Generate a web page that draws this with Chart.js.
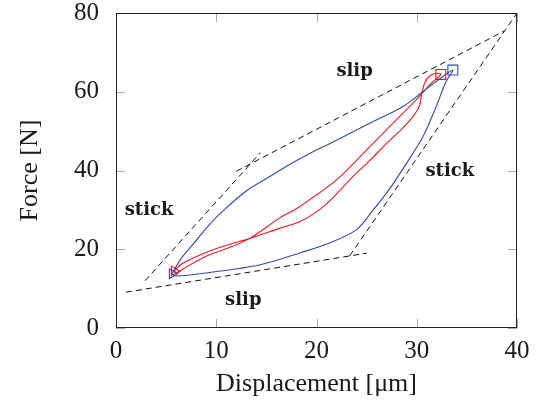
<!DOCTYPE html>
<html><head><meta charset="utf-8">
<script src="https://cdn.jsdelivr.net/npm/chart.js@4/dist/chart.umd.min.js"></script>
<style>html,body{margin:0;padding:0;background:#fff}</style>
</head><body>
<canvas id="c" width="537" height="400" style="width:537px;height:400px;display:block"></canvas>
<script>
// ---- data ----
const xTicks = [0, 10, 20, 30, 40];
const yTicks = [0, 20, 40, 60, 80];

const blueUpX = [5.6, 5.9, 6.6, 7.7, 9.3, 11.0, 13.0, 15.3, 17.0, 19.0, 22.0, 25.3, 28.6, 30.6, 32.3, 33.6];
const blueUpY = [13.8, 15.2, 18.0, 21.3, 26.2, 30.5, 34.8, 38.4, 41.1, 43.9, 47.7, 52.0, 56.2, 60.0, 63.3, 65.5];
const blueDownX = [33.6, 32.9, 31.9, 30.6, 28.9, 27.2, 25.6, 24.0, 21.5, 18.5, 14.3, 9.3, 6.0, 5.6];
const blueDownY = [65.5, 62.5, 56.0, 48.5, 41.5, 35.0, 29.8, 25.0, 21.8, 19.2, 16.0, 14.1, 13.2, 13.8];

const redUpX = [5.8, 6.5, 7.7, 9.3, 11.0, 13.3, 16.3, 18.3, 20.0, 21.6, 23.6, 25.3, 27.0, 28.5, 29.6, 30.3, 30.5, 30.8, 31.3, 31.9, 32.4];
const redUpY = [14.5, 16.2, 17.8, 19.5, 21.0, 22.7, 25.3, 27.0, 29.5, 33.0, 38.4, 42.5, 46.9, 50.5, 53.6, 56.6, 59.5, 62.3, 64.0, 64.7, 64.4];
const redDownX = [32.4, 31.5, 30.5, 29.7, 28.6, 25.3, 22.0, 18.3, 16.3, 13.3, 11.0, 9.3, 6.8, 6.1, 5.8];
const redDownY = [64.4, 62.3, 59.5, 57.3, 54.5, 46.0, 37.6, 30.8, 27.9, 22.7, 20.1, 18.6, 15.2, 14.0, 14.5];

const stickLeftX = [2.9, 14.4],  stickLeftY = [12.0, 44.5];
const slipUpperX = [12.0, 38.7], slipUpperY = [39.8, 75.4];
const stickRightX = [23.3, 40.0], stickRightY = [18.3, 80.0];
const slipLowerX = [1.0, 25.0],  slipLowerY = [9.1, 19.0];

const noteText = ['slip', 'stick', 'stick', 'slip'];
const noteX = [23.8, 3.3, 33.3, 12.7];
const noteY = [65.2, 29.8, 39.7, 7.0];

// ---- helpers ----
const pts = (xs, ys) => xs.map((v, i) => ({x: v, y: ys[i]}));
const loop = (ux, uy, dx, dy) => pts(ux, uy).concat(pts(dx, dy).slice(1));
const BLUE = 'rgb(45,75,175)';
const RED = 'rgb(238,25,35)';
const INK = '#1a1a1a';
const SERIF = '"Liberation Serif", "Times New Roman", serif';

function dashed(xs, ys) {
  return {data: pts(xs, ys), showLine: true, borderColor: '#111', borderWidth: 1,
    borderDash: [6, 4], pointRadius: 0, tension: 0, fill: false};
}
function curve(data, color) {
  return {data, showLine: true, borderColor: color, borderWidth: 1.1, pointRadius: 0,
    tension: 0.3, fill: false};
}
function marker(x, y, color, style, r, rot) {
  return {data: [{x, y}], showLine: false, pointStyle: style, pointRadius: r,
    pointRotation: rot, borderColor: color, pointBorderColor: color, pointBackgroundColor: 'rgba(0,0,0,0)',
    pointBorderWidth: 1.1, backgroundColor: 'rgba(0,0,0,0)'};
}

const frame = {
  id: 'frame',
  beforeDatasetsDraw(chart) {
    const {ctx, chartArea: a, scales: {x, y}} = chart;
    ctx.save();
    ctx.strokeStyle = '#a8a8a8'; ctx.lineWidth = 1;
    ctx.beginPath();
    xTicks.forEach(v => { const p = Math.round(x.getPixelForValue(v)) + 0.5;
      ctx.moveTo(p, a.bottom); ctx.lineTo(p, a.bottom - 9); ctx.moveTo(p, a.top); ctx.lineTo(p, a.top + 9); });
    yTicks.forEach(v => { const p = Math.round(y.getPixelForValue(v)) + 0.5;
      ctx.moveTo(a.left, p); ctx.lineTo(a.left + 9, p); ctx.moveTo(a.right, p); ctx.lineTo(a.right - 9, p); });
    ctx.stroke();
    ctx.restore();
  },
  afterDatasetsDraw(chart) {
    const {ctx, chartArea: a, scales: {x, y}} = chart;
    ctx.save();
    ctx.strokeStyle = '#222'; ctx.lineWidth = 1;
    ctx.strokeRect(a.left + 0.5, a.top + 0.5, a.right - a.left - 1, a.bottom - a.top - 1);
    ctx.fillStyle = INK;
    ctx.font = 'bold 18px "DejaVu Serif", serif';
    ctx.textAlign = 'center'; ctx.textBaseline = 'middle';
    noteText.forEach((t, i) => ctx.fillText(t, x.getPixelForValue(noteX[i]), y.getPixelForValue(noteY[i])));
    ctx.restore();
  }
};

new Chart(document.getElementById('c'), {
  type: 'scatter',
  data: {datasets: [
    dashed(stickLeftX, stickLeftY),
    dashed(slipUpperX, slipUpperY),
    dashed(stickRightX, stickRightY),
    dashed(slipLowerX, slipLowerY),
    curve(loop(blueUpX, blueUpY, blueDownX, blueDownY), BLUE),
    curve(loop(redUpX, redUpY, redDownX, redDownY), RED),
    marker(blueUpX[0], blueUpY[0], BLUE, 'triangle', 5.5, 90),
    marker(blueUpX[blueUpX.length - 1], blueUpY[blueUpY.length - 1], BLUE, 'rect', 7, 0),
    marker(redUpX[0], redUpY[0], RED, 'triangle', 5.5, 90),
    marker(redUpX[redUpX.length - 1], redUpY[redUpY.length - 1], RED, 'rect', 7, 0)
  ]},
  options: {
    responsive: false, animation: false, devicePixelRatio: 1,
    layout: {padding: {top: 13, right: 20, left: 0, bottom: 0}},
    plugins: {legend: {display: false}, tooltip: {enabled: false}},
    scales: {
      x: {type: 'linear', min: 0, max: 40,
        afterBuildTicks: s => { s.ticks = xTicks.map(v => ({value: v})); },
        afterFit: s => { s.height = 72; s.paddingLeft = 0; s.paddingRight = 0; },
        grid: {display: false}, border: {display: false},
        ticks: {font: {family: SERIF, size: 25}, color: INK, padding: 0, autoSkip: false, maxRotation: 0},
        title: {display: true, text: 'Displacement [μm]', font: {family: SERIF, size: 26}, color: INK, padding: 0}
      },
      y: {type: 'linear', min: 0, max: 80,
        afterBuildTicks: s => { s.ticks = yTicks.map(v => ({value: v})); },
        afterFit: s => { s.width = 116; s.paddingTop = 0; s.paddingBottom = 0; },
        grid: {display: false}, border: {display: false},
        ticks: {font: {family: SERIF, size: 25}, color: INK, padding: 9, autoSkip: false},
        title: {display: true, text: 'Force [N]', font: {family: SERIF, size: 26}, color: INK, padding: {top: 15, bottom: 0}}
      }
    }
  },
  plugins: [frame]
});
</script>
</body></html>
